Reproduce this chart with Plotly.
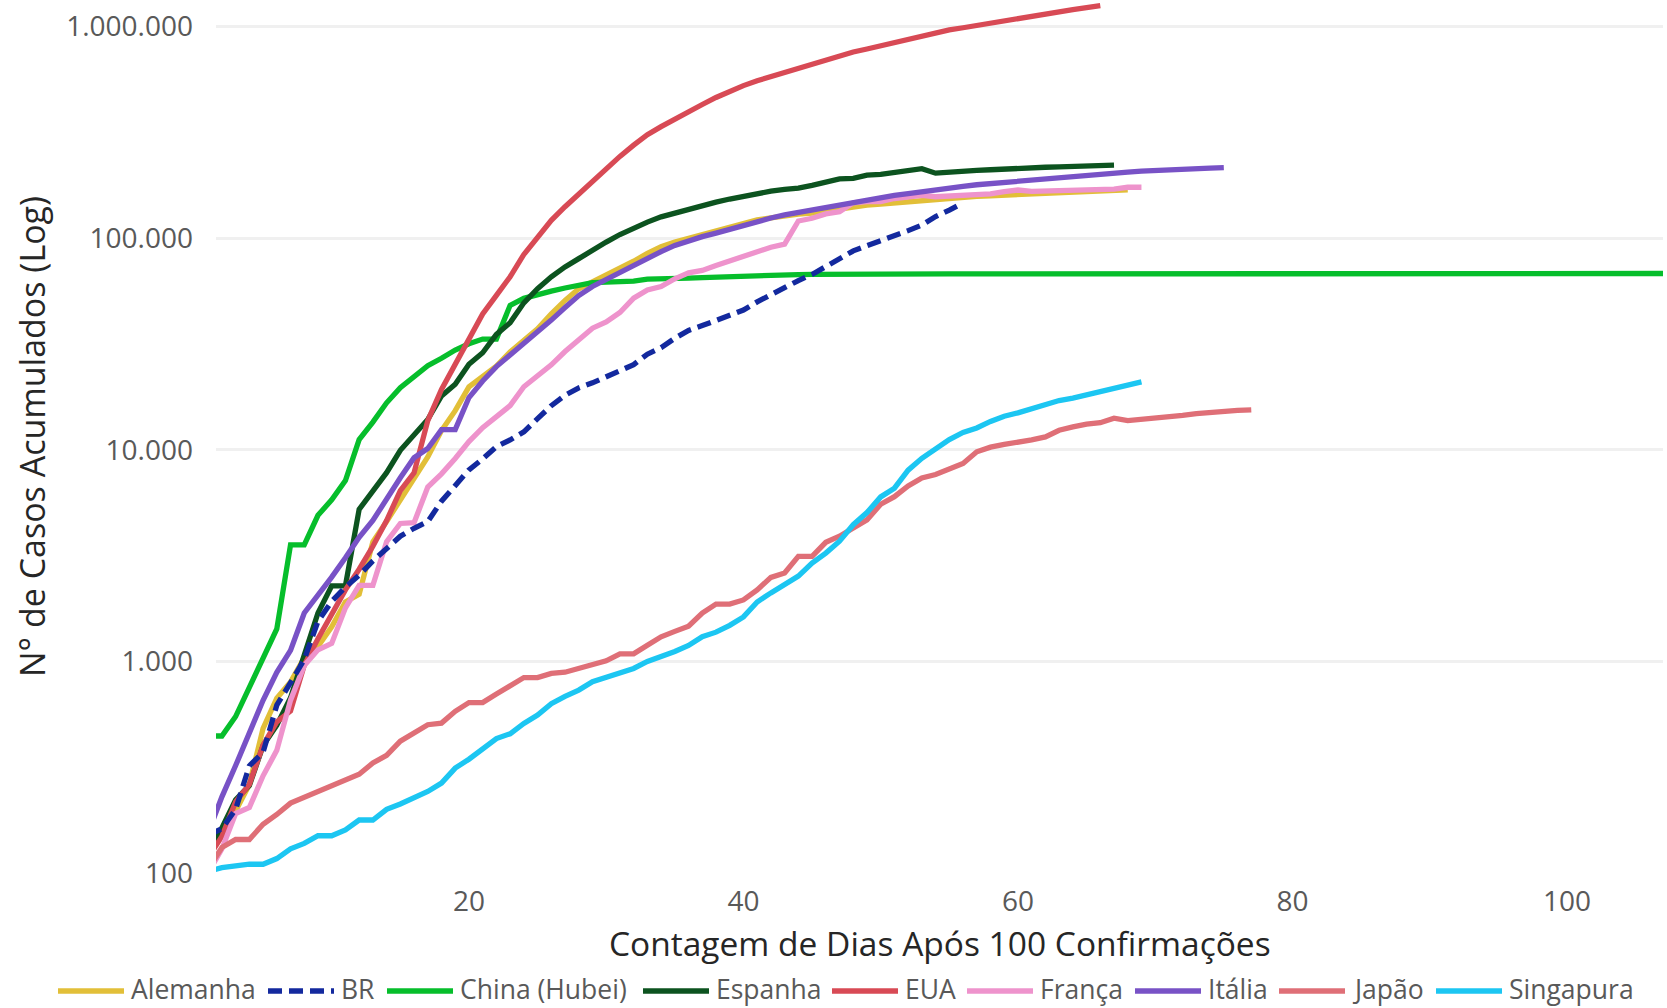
import plotly.graph_objects as go

# ---- data (cumulative confirmed cases, day 1 = first day with >=100 cases) ----
alemanha = [130, 159, 196, 262, 482, 670, 799, 1040, 1176, 1457, 1908, 2078, 3675, 4585, 5795, 7272,
            9257, 12327, 15320, 19848, 22213, 24873, 29056, 32986, 37323, 43938, 50871, 57695, 62095,
            66885, 71808, 77872, 84794, 91159, 96092, 100123, 103374, 107663, 113296, 118181, 122171,
            124908, 127854, 130072, 131359, 134753, 137698, 141397, 143342, 145184, 147065, 148291,
            150648, 153129, 154999, 156513, 157770, 158758, 159912, 161539, 163009, 164077, 164967,
            165664, 166152, 167007, 168162, 169430]

br = [151, 162, 200, 321, 372, 621, 793, 1021, 1546, 1924, 2247, 2554, 2985, 3417, 3904, 4256, 4579,
      5717, 6836, 8044, 9056, 10360, 11130, 12161, 14034, 16170, 18092, 19638, 20727, 22192, 23430,
      25262, 28320, 30425, 33682, 36658, 38654, 40743, 43079, 45757, 50036, 54043, 59324, 63100,
      67446, 73235, 79685, 87187, 92202, 97100, 101826, 108620, 115455, 126611, 135773, 146894]

china_hubei = [444, 444, 549, 761, 1058, 1423, 3554, 3554, 4903, 5806, 7153, 11177, 13522, 16678,
               19665, 22112, 24953, 27100, 29631, 31728, 33366, 33366, 48206, 51986, 54406, 56249,
               58182, 59989, 61682, 62031, 62442, 62662, 64084, 64084, 64287, 64786, 65187, 65596,
               65914, 66337, 66907, 67103, 67217, 67332, 67466, 67592, 67666, 67707, 67743, 67760,
               67773, 67781, 67786, 67790, 67794, 67798, 67799, 67800, 67800, 67800, 67800, 67800,
               67801, 67801, 67801, 67801, 67801, 67801, 67801, 67801, 67802, 67802, 67802, 67802,
               67802, 67803, 67803, 67803, 67803, 67803, 67803, 67803, 67803, 67803, 67803, 67803,
               68128, 68128, 68128, 68128, 68128, 68128, 68128, 68128, 68128, 68128, 68128, 68128,
               68128, 68128, 68128, 68128, 68128, 68128, 68128, 68128, 68128]

espanha = [120, 165, 222, 259, 400, 500, 673, 1073, 1695, 2277, 2277, 5232, 6391, 7798, 9942, 11748,
           13910, 17963, 20410, 25374, 28768, 35136, 39885, 49515, 57786, 65719, 73235, 80110, 87956,
           95923, 104118, 112065, 119199, 126168, 131646, 136675, 141942, 148220, 153222, 158273,
           163027, 166831, 170099, 172541, 177644, 184948, 190839, 191726, 198674, 200210, 204178,
           208389, 213024, 202990, 205905, 207634, 209465, 210773, 212917, 213435, 215216, 216582,
           217466, 218011, 219329, 220325, 221447]

eua = [118, 149, 217, 262, 402, 518, 583, 959, 1281, 1663, 2179, 2727, 3499, 4632, 6421, 7783, 13747,
       19273, 25600, 33276, 43847, 53740, 65778, 83836, 101657, 121465, 140909, 161831, 188172,
       213242, 243622, 275367, 308650, 336802, 366317, 397121, 428654, 462780, 496535, 526396,
       555313, 580619, 607670, 636350, 667592, 699706, 732197, 758809, 784326, 811865, 840351,
       869170, 905358, 938154, 965785, 988197, 1012582, 1039909, 1069424, 1103461, 1132539,
       1158040, 1180375, 1204351, 1229331, 1257023]

franca = [100, 130, 191, 204, 288, 380, 656, 957, 1134, 1217, 1792, 2290, 2290, 3678, 4487, 4523, 6668,
          7699, 9105, 10947, 12726, 14431, 16176, 19856, 22304, 25233, 29155, 32964, 37575, 40174,
          44550, 52128, 56989, 59105, 64338, 68605, 70478, 74390, 78167, 82048, 86334, 90676, 93790,
          120633, 124298, 130253, 133470, 147091, 149130, 149149, 154097, 156480, 159297, 157125,
          158303, 159952, 161644, 162220, 165963, 169053, 166543, 167299, 167305, 168518, 168925,
          169583, 170694, 174191, 174224]

italia = [155, 229, 322, 453, 655, 888, 1128, 1694, 2036, 2502, 3089, 3858, 4636, 5883, 7375, 9172,
          10149, 12462, 12462, 17660, 21157, 24747, 27980, 31506, 35713, 41035, 47021, 53578, 59138,
          63927, 69176, 74386, 80589, 86498, 92472, 97689, 101739, 105792, 110574, 115242, 119827,
          124632, 128948, 132547, 135586, 139422, 143626, 147577, 152271, 156363, 159516, 162488,
          165155, 168941, 172434, 175925, 178972, 181228, 183957, 187327, 189973, 192994, 195351,
          197675, 199414, 201505, 203591, 205463, 207428, 209328, 210717, 211938, 213013, 214457,
          215858]

japao = [105, 132, 144, 144, 170, 189, 214, 228, 241, 256, 274, 293, 331, 360, 420, 461, 502, 511, 581,
         639, 639, 701, 773, 839, 839, 878, 889, 924, 963, 1007, 1086, 1086, 1193, 1307, 1387, 1468,
         1693, 1866, 1866, 1953, 2178, 2495, 2617, 3139, 3139, 3654, 3906, 4257, 4667, 5530, 6005,
         6748, 7370, 7645, 8100, 8626, 9787, 10296, 10608, 10797, 11135, 11512, 12368, 12829, 13231,
         13441, 14119, 13736, 13895, 14088, 14281, 14544, 14839, 15057, 15231, 15354, 15463]

singapura = [102, 106, 108, 110, 110, 117, 130, 138, 150, 150, 160, 178, 178, 200, 212, 226, 243, 266,
             313, 345, 385, 432, 455, 509, 558, 631, 683, 732, 802, 844, 879, 926, 1000, 1049, 1114,
             1189, 1309, 1375, 1481, 1623, 1910, 2108, 2299, 2532, 2918, 3252, 3699, 4427, 5050, 5992,
             6588, 8014, 9125, 10141, 11178, 12075, 12693, 13624, 14423, 14951, 15641, 16169, 17101,
             17548, 18205, 18778, 19410, 20198, 20939]

y_tickvals = [100, 1000, 10000, 100000, 1000000]
y_ticktext = ["100", "1.000", "10.000", "100.000", "1.000.000"]
x_tickvals = [20, 40, 60, 80, 100]
x_title = "Contagem de Dias Após 100 Confirmações"
y_title = "N° de Casos Acumulados (Log)"

# (name, values, colour, dash, legend order)
series = [
    ("Alemanha", alemanha, "#E2BF38", "solid", 1),
    ("China (Hubei)", china_hubei, "#06BE2B", "solid", 3),
    ("Espanha", espanha, "#0C531F", "solid", 4),
    ("EUA", eua, "#D84A55", "solid", 5),
    ("França", franca, "#EE93CC", "solid", 6),
    ("Itália", italia, "#7852C6", "solid", 7),
    ("Japão", japao, "#DF6F77", "solid", 8),
    ("Singapura", singapura, "#1CC6F2", "solid", 9),
    ("BR", br, "#13299E", "14px,7px", 2),
]

LINE_W = 5.3
W, H = 1667, 1008
ML, MR, MT, MB = 216, 4, 0, 135
PW, PH = W - ML - MR, H - MT - MB

fig = go.Figure()
for name, vals, color, dash, rank in series:
    fig.add_trace(go.Scatter(
        x=list(range(1, len(vals) + 1)), y=vals, name=name, mode="lines",
        line=dict(color=color, width=LINE_W, dash=dash),
        legendrank=rank, hoverinfo="skip", showlegend=False,
    ))

# ---- custom legend below the chart (Excel style: long line sample + label) ----
legend_left_px = [58, 268, 387, 643, 832, 967, 1135, 1279, 1436]
legend_y_px = 989
sample_len = 66
ordered = sorted(series, key=lambda s: s[4])


def px_x(px):
    return (px - ML) / PW


def px_y(py):
    return (H - MB - py) / PH


shapes = []
annotations = []
for (name, vals, color, dash, rank), left in zip(ordered, legend_left_px):
    shapes.append(dict(
        type="line", xref="paper", yref="paper",
        x0=px_x(left), x1=px_x(left + sample_len), y0=px_y(legend_y_px + 2), y1=px_y(legend_y_px + 2),
        line=dict(color=color, width=LINE_W, dash=dash),
    ))
    annotations.append(dict(
        text=name, xref="paper", yref="paper", x=px_x(left + sample_len + 6), y=px_y(legend_y_px),
        xanchor="left", yanchor="middle", showarrow=False, borderpad=0,
        font=dict(size=26.5, color="#595959"),
    ))

# x-axis title as annotation for exact vertical placement
annotations.append(dict(
    text=x_title, xref="paper", yref="paper", x=0.5, y=px_y(943),
    xanchor="center", yanchor="middle", showarrow=False, borderpad=0,
    font=dict(size=33.5, color="#262626"),
))

font_family = "Open Sans, Noto Sans, sans-serif"
fig.update_layout(
    width=W, height=H,
    margin=dict(l=ML, r=MR, t=MT, b=MB, autoexpand=False),
    paper_bgcolor="white", plot_bgcolor="white",
    font=dict(family=font_family, color="#595959"),
    showlegend=False,
    shapes=shapes, annotations=annotations,
)
fig.update_xaxes(
    range=[1.57, 107.0], tickvals=x_tickvals, showgrid=False, zeroline=False, showline=False,
    ticks="", tickfont=dict(size=28, color="#595959"), ticklabelstandoff=9,
)
fig.update_yaxes(
    type="log", range=[2, 6.126], tickvals=y_tickvals, ticktext=y_ticktext,
    showgrid=True, gridcolor="#F0F0F0", gridwidth=3, zeroline=False, showline=False,
    ticks="", tickfont=dict(size=28, color="#595959"), ticklabelstandoff=22,
    title=dict(text=y_title, font=dict(size=34, color="#262626"), standoff=10),
)

fig.write_html("out.html", config={"displayModeBar": False},
               post_script="document.body.style.margin='0px';")
